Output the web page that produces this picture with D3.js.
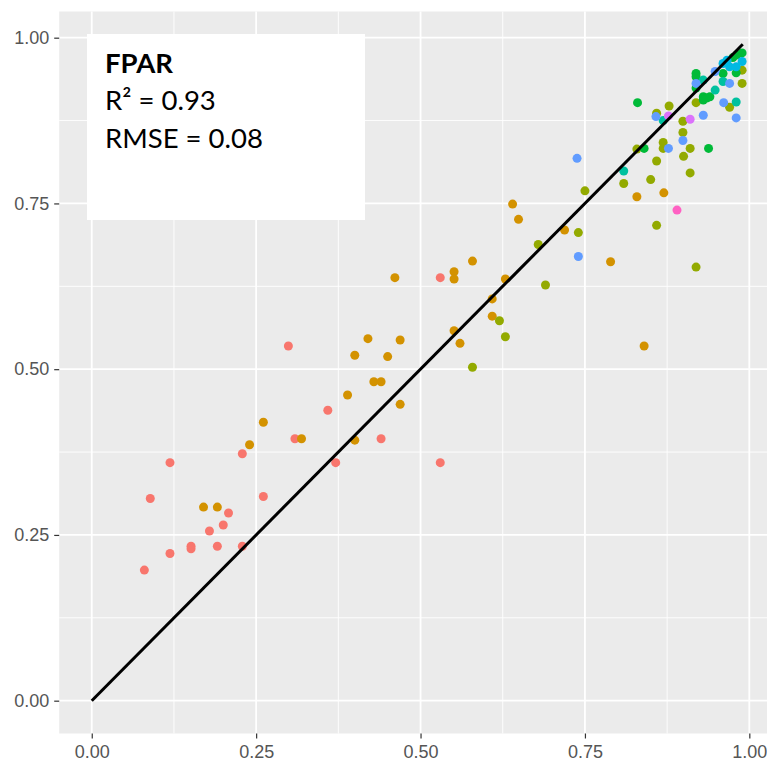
<!DOCTYPE html>
<html>
<head>
<meta charset="utf-8">
<script src="https://cdn.jsdelivr.net/npm/d3@7"></script>
<style>
  body { margin: 0; background: #fff; }
  svg { display: block; }
</style>
</head>
<body>
<div id="chart"></div>
<script>
// groups, in ggplot's default hue order
const groups = ["g1", "g2", "g3", "g4", "g5", "g6", "g7", "g8", "g9"];
const palette = ["#F8766D", "#D39200", "#93AA00", "#00BA38", "#00C19F", "#00B9E3", "#619CFF", "#DB72FB", "#FF61C3"];

// [observed, estimated] pairs per group
const g1 = [[0.299,0.535],[0.309,0.395],[0.229,0.3725],[0.119,0.359],[0.089,0.305],[0.261,0.308],[0.208,0.283],
  [0.200,0.265],[0.179,0.256],[0.151,0.233],[0.151,0.229],[0.191,0.233],[0.229,0.233],[0.119,0.222],[0.080,0.197],
  [0.530,0.638],[0.359,0.438],[0.440,0.395],[0.371,0.359],[0.530,0.359]];
const g2 = [[0.261,0.420],[0.319,0.395],[0.240,0.386],[0.170,0.292],[0.191,0.292],[0.640,0.749],[0.649,0.726],
  [0.719,0.710],[0.579,0.663],[0.551,0.647],[0.461,0.638],[0.551,0.636],[0.629,0.636],[0.609,0.606],[0.609,0.580],
  [0.420,0.546],[0.469,0.544],[0.551,0.558],[0.560,0.539],[0.400,0.521],[0.450,0.519],[0.429,0.481],[0.440,0.481],
  [0.389,0.461],[0.469,0.447],[0.400,0.393],[0.789,0.662],[0.840,0.535],[0.829,0.760],[0.870,0.766]];
const g3 = [[0.740,0.706],[0.679,0.688],[0.690,0.627],[0.620,0.573],[0.629,0.549],[0.579,0.503],[0.919,0.654],
  [0.900,0.821],[0.859,0.814],[0.910,0.796],[0.809,0.780],[0.850,0.786],[0.859,0.717],[0.878,0.897],[0.919,0.902],
  [0.859,0.886],[0.899,0.874],[0.899,0.857],[0.869,0.842],[0.869,0.833],[0.910,0.833],[0.829,0.832],[0.970,0.895],
  [0.989,0.931],[0.989,0.951],[0.750,0.769]];
const g4 = [[0.830,0.902],[0.840,0.833],[0.938,0.833],[0.919,0.946],[0.919,0.941],[0.919,0.924],[0.930,0.911],
  [0.935,0.909],[0.940,0.911],[0.930,0.906],[0.960,0.946],[0.980,0.947],[0.989,0.977],[0.981,0.974],[0.975,0.970]];
const g5 = [[0.809,0.799],[0.869,0.875],[0.930,0.936],[0.948,0.921],[0.960,0.934],[0.980,0.903]];
const g6 = [[0.960,0.961],[0.989,0.964],[0.970,0.956],[0.980,0.956],[0.966,0.966]];
const g7 = [[0.740,0.670],[0.738,0.818],[0.858,0.881],[0.930,0.883],[0.899,0.845],[0.877,0.833],[0.919,0.931],
  [0.948,0.949],[0.970,0.931],[0.961,0.902],[0.980,0.879]];
const g8 = [[0.877,0.882],[0.910,0.877]];
const g9 = [[0.890,0.740]];

const seriesData = [g1, g2, g3, g4, g5, g6, g7, g8, g9];

// 1:1 reference line
const lineEnds = [0, 0.99];
const majorTicks = [0, 0.25, 0.5, 0.75, 1];
const minorTicks = [0.125, 0.375, 0.625, 0.875];

const label = { title: "FPAR", r2: "0.93", rmse: "0.08" };

const width = 767, height = 763;

const points = [];
seriesData.forEach((s, i) => s.forEach(d => points.push({ x: d[0], y: d[1], g: groups[i] })));

// ggplot style 5% expansion
const lo = 0, hi = lineEnds[1];
const pad = (hi - lo) * 0.05;

const x = d3.scaleLinear().domain([lo - pad, hi + pad]).range([59.2, 775.3]);
const y = d3.scaleLinear().domain([lo - pad, hi + pad]).range([733.5, 11.5]);
const color = d3.scaleOrdinal().domain(groups).range(palette);

const svg = d3.select("#chart").append("svg")
  .attr("width", width)
  .attr("height", height);

// panel
svg.append("rect")
  .attr("x", x.range()[0]).attr("y", y.range()[1])
  .attr("width", x.range()[1] - x.range()[0])
  .attr("height", y.range()[0] - y.range()[1])
  .attr("fill", "#EBEBEB");

const grid = svg.append("g");
grid.selectAll(".minor-x").data(minorTicks).enter().append("line")
  .attr("x1", d => x(d)).attr("x2", d => x(d))
  .attr("y1", y.range()[0]).attr("y2", y.range()[1])
  .attr("stroke", "#fff").attr("stroke-width", 0.9);
grid.selectAll(".minor-y").data(minorTicks).enter().append("line")
  .attr("y1", d => y(d)).attr("y2", d => y(d))
  .attr("x1", x.range()[0]).attr("x2", x.range()[1])
  .attr("stroke", "#fff").attr("stroke-width", 0.9);
grid.selectAll(".major-x").data(majorTicks).enter().append("line")
  .attr("x1", d => x(d)).attr("x2", d => x(d))
  .attr("y1", y.range()[0]).attr("y2", y.range()[1])
  .attr("stroke", "#fff").attr("stroke-width", 1.8);
grid.selectAll(".major-y").data(majorTicks).enter().append("line")
  .attr("y1", d => y(d)).attr("y2", d => y(d))
  .attr("x1", x.range()[0]).attr("x2", x.range()[1])
  .attr("stroke", "#fff").attr("stroke-width", 1.8);

// annotation box
const box = svg.append("g");
box.append("rect")
  .attr("x", 87).attr("y", 34)
  .attr("width", 278).attr("height", 186)
  .attr("fill", "#fff");
const txt = box.append("text")
  .attr("font-family", "Lato, 'Open Sans', sans-serif")
  .attr("font-size", 27.5)
  .attr("fill", "#000");
txt.append("tspan").attr("x", 105).attr("y", 73).attr("font-weight", "bold").text(label.title);
txt.append("tspan").attr("x", 105).attr("y", 110).text("R² = " + label.r2);
txt.append("tspan").attr("x", 105).attr("y", 148).text("RMSE = " + label.rmse);

// points
svg.append("g").selectAll("circle")
  .data(points)
  .enter().append("circle")
  .attr("cx", d => x(d.x))
  .attr("cy", d => y(d.y))
  .attr("r", 4.5)
  .attr("fill", d => color(d.g));

// 1:1 line
svg.append("line")
  .attr("x1", x(lineEnds[0])).attr("y1", y(lineEnds[0]))
  .attr("x2", x(lineEnds[1])).attr("y2", y(lineEnds[1]))
  .attr("stroke", "#000")
  .attr("stroke-width", 3);

// axes
const xAxis = svg.append("g")
  .attr("transform", `translate(0,${y.range()[0]})`)
  .call(d3.axisBottom(x).tickValues(majorTicks).tickFormat(d3.format(".2f")).tickSizeOuter(0).tickSize(5).tickPadding(7));
const yAxis = svg.append("g")
  .attr("transform", `translate(${x.range()[0]},0)`)
  .call(d3.axisLeft(y).tickValues(majorTicks).tickFormat(d3.format(".2f")).tickSizeOuter(0).tickSize(5).tickPadding(5));

[xAxis, yAxis].forEach(a => {
  a.select(".domain").remove();
  a.selectAll(".tick line").attr("stroke", "#333").attr("stroke-width", 1.2);
  a.selectAll(".tick text")
    .attr("fill", "#555")
    .attr("font-family", "'Liberation Sans', Arial, sans-serif")
    .attr("font-size", 18);
});
</script>
</body>
</html>
